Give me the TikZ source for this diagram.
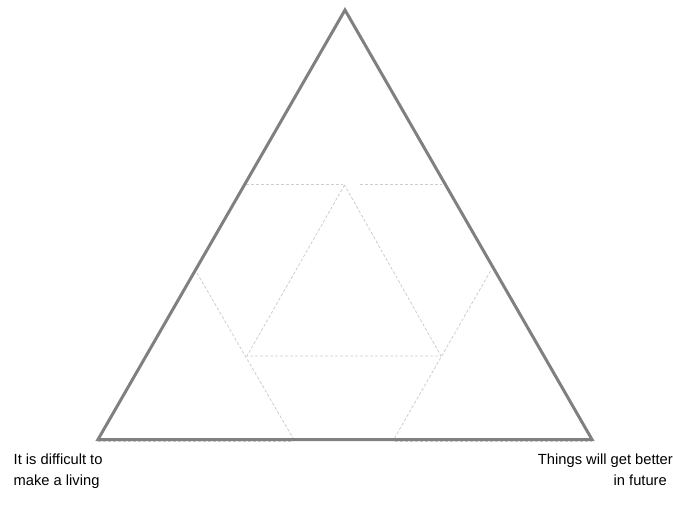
\documentclass[tikz,border=0pt]{standalone}
\usepackage{fontspec}
\setmainfont{Liberation Sans}
\definecolor{edgegray}{RGB}{128,128,128}
\definecolor{dashgray}{RGB}{205,205,205}
\tikzset{
  outeredge/.style={draw=edgegray, line width=3pt, line join=miter},
  guide/.style={draw=dashgray, line width=0.8pt, dash pattern=on 3pt off 2pt},
  caption/.style={font=\fontsize{14.7pt}{20.5pt}\selectfont, inner sep=0pt, text=black}
}
\begin{document}
\begin{tikzpicture}[x=1pt, y=-1pt]
\useasboundingbox (0,0) rectangle (673,517);
% outer vertices
\coordinate (A) at (345,10);
\coordinate (B) at (98,439.5);
\coordinate (C) at (592,439.5);
% guide points
\coordinate (tl) at (246,184.5);
\coordinate (ta) at (343,184.5);
\coordinate (tb) at (360,184.5);
\coordinate (tr) at (442,184.5);
\coordinate (ia) at (344.5,185);
\coordinate (ib) at (247,356);
\coordinate (ic) at (441,356);
\coordinate (ll) at (197,273);
\coordinate (lb) at (293.5,439);
\coordinate (rr) at (490.5,271);
\coordinate (rb) at (394,439);
\coordinate (b1) at (98,441);
\coordinate (b2) at (293,441);
\coordinate (b3) at (395,441);
\coordinate (b4) at (592,441);
% dashed guides
\draw[guide] (tl) -- (ta);
\draw[guide] (tb) -- (tr);
\draw[guide] (ia) -- (ib) -- (ic) -- cycle;
\draw[guide] (ll) -- (lb);
\draw[guide] (rr) -- (rb);
\draw[guide] (b1) -- (b2);
\draw[guide] (b3) -- (b4);
% outer triangle
\draw[outeredge] (A) -- (B) -- (C) -- cycle;
% captions
\node[caption, anchor=base west, align=left] (lefttext) at (13.5,485)
  {It is difficult to\\make a living};
\node[caption, anchor=base east, align=right] (righttext) at (673,485)
  {Things will get better\\in future\hspace*{6pt}};
\end{tikzpicture}
\end{document}
